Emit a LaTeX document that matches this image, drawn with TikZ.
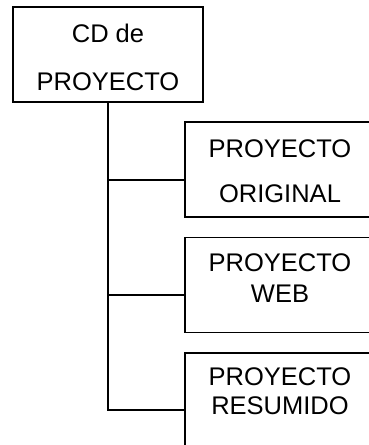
\documentclass[tikz,border=0pt]{standalone}
\usepackage{fontspec}
\setmainfont{Liberation Sans}
\begin{document}
\begin{tikzpicture}[x=1pt,y=-1pt,
  box/.style={draw=black, line width=1.6pt, minimum width=190.5pt, minimum height=95pt, inner sep=0pt},
  lbl/.style={align=center, inner sep=0pt, font=\fontsize{25.5pt}{#1}\selectfont},
  conn/.style={draw=black, line width=1.6pt}]
\useasboundingbox (0,0) rectangle (369,445);
\node[box] (top) at (108,54.2) {};
\node[box] (b2) at (280,169.5) {};
\node[box] (b3) at (280,284.8) {};
\node[box] (b4) at (280,400.5) {};
\node[lbl=47.5pt] (t1) at (108,57.5) {CD de\\PROYECTO};
\node[lbl=45pt] (t2) at (280,171.5) {PROYECTO\\ORIGINAL};
\node[lbl=31pt] (t3) at (280,278.2) {PROYECTO\\WEB};
\node[lbl=29pt] (t4) at (280,391.5) {PROYECTO\\RESUMIDO};
\coordinate (j2) at ([yshift=-10.5pt]b2.west);
\coordinate (j3) at ([yshift=-10.2pt]b3.west);
\coordinate (j4) at ([yshift=-9.5pt]b4.west);
\draw[conn] (top.south) |- (j4);
\draw[conn] (top.south |- j2) -- (j2);
\draw[conn] (top.south |- j3) -- (j3);
\end{tikzpicture}
\end{document}
